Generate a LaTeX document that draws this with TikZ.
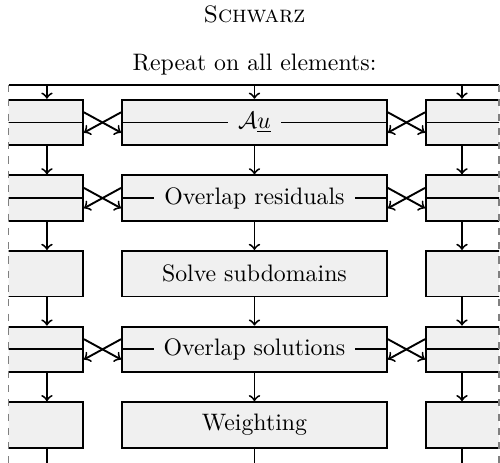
\documentclass[tikz,border=0pt]{standalone}
\usetikzlibrary{arrows,positioning}

\begin{document}
\begin{tikzpicture}[thick, node distance=0.416cm and 0.548cm,
	blk/.style={draw, fill=black!6, minimum width=3.91cm, minimum height=0.672cm, inner sep=0pt},
	lbl/.style={fill=black!6, inner xsep=0.15cm, inner ysep=1pt}]

	\useasboundingbox (-3.756,1.255) rectangle (3.624,-5.565);

	\node (title) at (0,1.048) {\textsc{Schwarz}};
	\node (repeat) at (0,0.30) {Repeat on all elements:};

	\coordinate (tl) at (-3.63,0);
	\coordinate (tr) at (3.61,0);
	\coordinate (la) at (-3.063,0);
	\coordinate (ca) at (0,0);
	\coordinate (ra) at (3.063,0);

	\begin{scope}
	\clip (-3.63,0.2) rectangle (3.61,-5.8);

	\node[blk] (c1) at (0,-0.553) {};
	\node[blk] (c2) [below=of c1] {};
	\node[blk] (c3) [below=of c2] {};
	\node[blk] (c4) [below=of c3] {};
	\node[blk] (c5) [below=of c4] {};
	\foreach \r in {1,...,5} {
		\node[blk] (l\r) [left=of c\r] {};
		\node[blk] (r\r) [right=of c\r] {};
	}

	\foreach \r in {1,2,4} {
		\draw (l\r.west) -- (l\r.east);
		\draw (c\r.west) -- (c\r.east);
		\draw (r\r.west) -- (r\r.east);
		\draw[->] ([yshift=0.15cm]l\r.east) -- ([yshift=-0.15cm]c\r.west);
		\draw[->] ([yshift=0.15cm]c\r.west) -- ([yshift=-0.15cm]l\r.east);
		\draw[->] ([yshift=0.15cm]c\r.east) -- ([yshift=-0.15cm]r\r.west);
		\draw[->] ([yshift=0.15cm]r\r.west) -- ([yshift=-0.15cm]c\r.east);
	}

	\node[lbl] (t1) at (c1) {$\mathcal{A}\underline{u}$};
	\node[lbl] (t2) at (c2) {Overlap residuals};
	\node (t3) at (c3) {Solve subdomains};
	\node[lbl] (t4) at (c4) {Overlap solutions};
	\node (t5) at (c5) {Weighting};

	\draw (tl) -- (tr);
	\foreach \x in {la,ca,ra} {
		\draw[->] (\x) -- (\x |- l1.north);
		\foreach \r in {1,...,4} {
			\pgfmathtruncatemacro{\n}{\r+1}
			\draw[->] (\x |- l\r.south) -- (\x |- l\n.north);
		}
		\draw (\x |- l5.south) -- ++(0,-0.8);
	}
	\end{scope}

	\draw[gray, semithick, dashed] (tl) -- ++(0,-5.8);
	\draw[gray, semithick, dashed] (tr) -- ++(0,-5.8);
\end{tikzpicture}
\end{document}
